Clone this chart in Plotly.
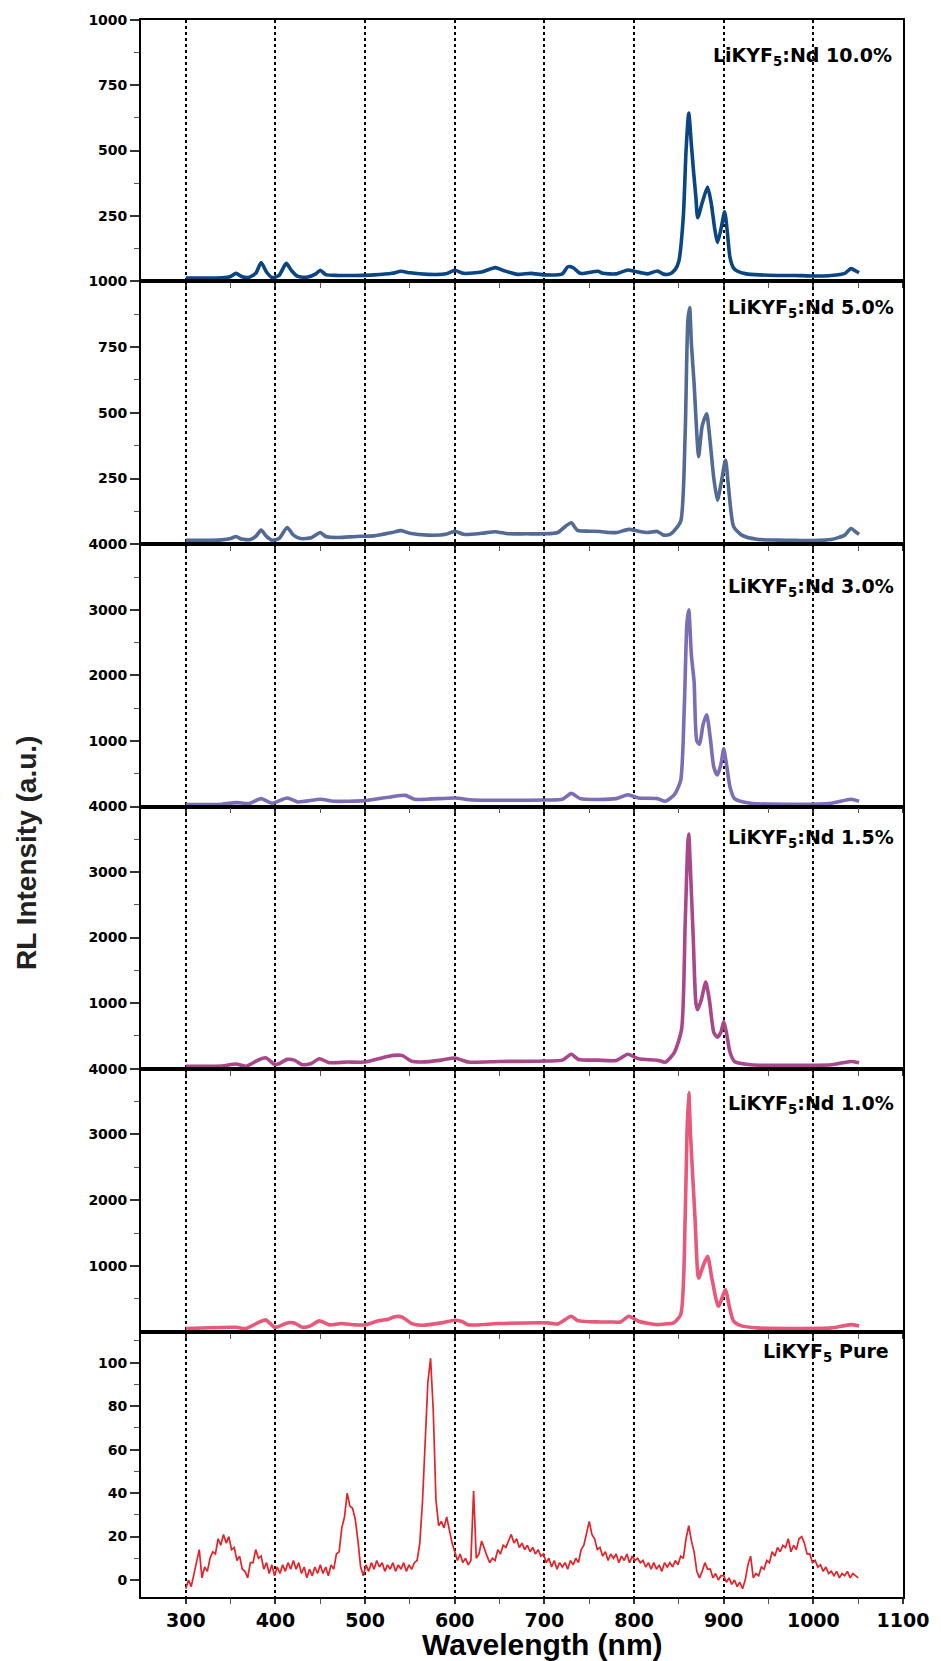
import plotly.graph_objects as go
from plotly.subplots import make_subplots

# ---------------- data ----------------
nd10_wl = [300, 320, 340, 350, 356, 362, 370, 378, 384, 390, 396, 404, 412, 418, 425, 435, 445, 450, 456, 470,
           490, 510, 530, 540, 550, 570, 590, 600, 610, 630, 645, 655, 670, 685, 700, 720, 726, 732, 740, 760,
           765, 780, 793, 800, 815, 826, 833, 840, 846, 850, 855, 858, 861, 864, 866, 869, 871, 876, 882, 886,
           890, 893, 897, 901, 904, 907, 911, 915, 925, 940, 960, 980, 1000, 1020, 1035, 1042, 1048, 1051]
nd10_int = [12, 12, 13, 18, 30, 18, 14, 30, 71, 35, 14, 22, 68, 40, 18, 15, 28, 42, 25, 22,
            22, 24, 30, 38, 32, 26, 28, 42, 30, 35, 52, 40, 26, 30, 24, 28, 55, 52, 30, 38,
            30, 28, 43, 38, 28, 39, 27, 28, 45, 77, 250, 500, 644, 520, 435, 320, 243, 300, 360, 300,
            200, 148, 200, 266, 190, 91, 50, 39, 28, 24, 22, 22, 20, 22, 30, 48, 38, 33]

nd5_wl = [300, 320, 340, 350, 356, 362, 372, 378, 384, 390, 396, 404, 413, 420, 428, 440, 450, 456, 470, 490,
          510, 530, 540, 550, 570, 590, 600, 610, 630, 645, 660, 680, 700, 715, 724, 730, 737, 750, 762, 772,
          781, 794, 805, 815, 826, 833, 840, 844, 852, 857, 860, 862, 864, 867, 870, 872, 876, 881, 884, 889,
          893, 897, 902, 905, 911, 920, 937, 960, 980, 1000, 1020, 1035, 1042, 1048, 1051]
nd5_int = [15, 15, 17, 22, 30, 20, 18, 30, 54, 30, 16, 22, 64, 35, 22, 25, 45, 30, 26, 30,
           32, 45, 52, 42, 35, 38, 50, 38, 42, 48, 40, 40, 40, 45, 70, 82, 53, 50, 49, 45,
           45, 57, 50, 45, 49, 35, 38, 49, 87, 420, 850, 900, 760, 610, 420, 333, 450, 496, 420, 250,
           168, 230, 320, 230, 68, 35, 19, 16, 15, 14, 18, 35, 60, 45, 38]

nd3_wl = [300, 340, 356, 370, 384, 396, 413, 425, 450, 465, 500, 530, 545, 555, 600, 620, 700, 720, 730, 740,
          780, 793, 805, 826, 835, 845, 852, 856, 859, 861, 864, 867, 870, 873, 877, 881, 885, 889, 893, 897,
          900, 903, 907, 912, 930, 980, 1020, 1042, 1051]
nd3_int = [30, 35, 60, 45, 120, 50, 130, 70, 110, 80, 90, 150, 170, 110, 130, 100, 100, 110, 200, 120,
           120, 180, 130, 120, 80, 180, 400, 1500, 2800, 3000, 2300, 1900, 1000, 950, 1250, 1400, 1050, 600, 480, 650,
           880, 650, 300, 120, 50, 35, 50, 110, 80]

nd15_wl = [300, 340, 356, 367, 380, 389, 399, 404, 413, 421, 430, 440, 449, 460, 480, 500, 515, 526, 532, 541,
           552, 563, 585, 600, 615, 650, 704, 720, 730, 738, 760, 780, 793, 805, 826, 835, 845, 853, 857, 860,
           861, 863, 866, 869, 871, 875, 880, 884, 889, 893, 897, 900, 903, 907, 912, 930, 980, 1020, 1042, 1051]
nd15_int = [37, 40, 71, 37, 127, 167, 66, 76, 142, 130, 61, 80, 152, 91, 101, 101, 152, 190, 203, 203,
            112, 101, 130, 162, 101, 110, 117, 130, 220, 140, 130, 125, 220, 150, 130, 100, 250, 600, 2200, 3450,
            3580, 3000, 2000, 1000, 900, 1050, 1320, 1050, 550, 480, 560, 720, 550, 250, 110, 60, 50, 60, 110, 90]

nd1_wl = [300, 356, 367, 380, 389, 399, 404, 413, 421, 430, 439, 449, 460, 473, 489, 500, 515, 526, 532, 541,
          552, 563, 585, 600, 608, 615, 648, 704, 715, 730, 737, 762, 774, 785, 794, 805, 815, 826, 835, 844,
          852, 857, 859, 861, 863, 868, 872, 877, 882, 887, 894, 902, 906, 911, 920, 937, 980, 1020, 1042, 1051]
nd1_int = [50, 70, 50, 136, 182, 70, 83, 136, 136, 70, 90, 167, 106, 126, 106, 106, 167, 192, 227, 227,
           126, 100, 136, 177, 157, 106, 126, 136, 121, 238, 170, 150, 150, 150, 238, 160, 130, 110, 120, 136,
           262, 1727, 3000, 3636, 2990, 1727, 818, 1000, 1147, 800, 389, 641, 400, 162, 90, 60, 50, 60, 110, 90]

# pure LiKYF5, sampled every 3 nm from 300 to 1050 nm
pure_wl = list(range(300, 1051, 3))
pure_int = [-4, 0, -3, 3, 8, 14, 1, 6, 4, 10,
            13, 12, 19, 16, 21, 17, 20, 14, 15, 9,
            11, 5, 4, 1, 8, 8, 14, 10, 11, 5,
            8, 3, 7, 2, 6, 3, 7, 4, 8, 5,
            9, 5, 8, 3, 6, 1, 5, 2, 6, 3,
            7, 3, 6, 2, 7, 5, 12, 13, 24, 29,
            40, 34, 33, 28, 18, 6, 2, 7, 4, 8,
            5, 9, 6, 8, 4, 7, 5, 8, 4, 7,
            5, 8, 4, 7, 5, 8, 9, 17, 36, 62,
            91, 102, 78, 37, 25, 27, 24, 29, 23, 17,
            13, 9, 12, 8, 10, 7, 9, 41, 10, 12,
            18, 14, 11, 8, 10, 9, 14, 12, 16, 15,
            18, 21, 17, 19, 15, 17, 14, 16, 13, 15,
            12, 14, 11, 12, 8, 10, 6, 9, 5, 8,
            6, 8, 5, 9, 7, 10, 8, 14, 16, 22,
            27, 21, 19, 14, 15, 11, 13, 9, 12, 10,
            12, 8, 11, 9, 12, 8, 11, 9, 10, 8,
            9, 6, 8, 5, 8, 5, 7, 4, 8, 6,
            8, 6, 9, 7, 11, 10, 19, 25, 18, 13,
            4, 1, 4, 8, 5, 5, 1, 3, 0, 2,
            2, -1, 1, -2, 0, -3, -1, -4, 0, 7,
            11, 1, 3, 2, 6, 5, 9, 8, 13, 11,
            15, 13, 16, 15, 19, 13, 16, 14, 19, 20,
            17, 12, 12, 8, 9, 6, 7, 4, 6, 3,
            4, 2, 4, 1, 3, 2, 4, 1, 3, 2, 1]

labels = ["LiKYF<sub>5</sub>:Nd 10.0%", "LiKYF<sub>5</sub>:Nd 5.0%", "LiKYF<sub>5</sub>:Nd 3.0%",
          "LiKYF<sub>5</sub>:Nd 1.5%", "LiKYF<sub>5</sub>:Nd 1.0%", "LiKYF<sub>5</sub> Pure"]

x_ticks = [300, 400, 500, 600, 700, 800, 900, 1000, 1100]
x_minor = [350, 450, 550, 650, 750, 850, 950, 1050]

# ---------------- styling ----------------
series = [(nd10_wl, nd10_int), (nd5_wl, nd5_int), (nd3_wl, nd3_int),
          (nd15_wl, nd15_int), (nd1_wl, nd1_int), (pure_wl, pure_int)]
colors = ["#0b4584", "#516a96", "#7c6db6", "#a8478a", "#e8587a", "#e42228"]
widths = [3.6, 3.6, 3.6, 3.6, 3.6, 1.7]
shapes = ["spline"] * 5 + ["linear"]
yranges = [[0, 1000], [0, 1000], [0, 4000], [0, 4000], [0, 4000], [-7.8, 114.2]]
yticks = [[250, 500, 750, 1000], [250, 500, 750, 1000], [1000, 2000, 3000, 4000],
          [1000, 2000, 3000, 4000], [1000, 2000, 3000, 4000], [0, 20, 40, 60, 80, 100]]
yminor = [[125, 375, 625, 875], [125, 375, 625, 875], [500, 1500, 2500, 3500],
          [500, 1500, 2500, 3500], [500, 1500, 2500, 3500], [10, 30, 50, 70, 90, 110]]

W, H = 941, 1661
L, R, T, B = 141, 34, 15, 64
bounds_px = [15, 277, 541, 804, 1067, 1331, 1597]
plot_h = H - T - B


def fy(px):
    return (H - B - px) / plot_h


def fx(px):
    return (px - L) / (W - L - R)


fig = make_subplots(rows=6, cols=1, vertical_spacing=0)

tick_font = dict(family="DejaVu Sans", size=14, color="black", weight="bold")
for i, ((wl, it), c, w) in enumerate(zip(series, colors, widths)):
    line = dict(color=c, width=w, shape=shapes[i])
    if shapes[i] == "spline":
        line["smoothing"] = 0.6
    fig.add_trace(go.Scatter(x=wl, y=it, mode="lines", line=line,
                             showlegend=False), row=i + 1, col=1)
    n = "" if i == 0 else str(i + 1)
    fig.layout["yaxis" + n].update(
        domain=[fy(bounds_px[i + 1]), fy(bounds_px[i])],
        range=yranges[i], tickmode="array", tickvals=yticks[i],
        ticks="outside", ticklen=9, tickwidth=1.5, tickcolor="#333",
        minor=dict(tickvals=yminor[i], ticks="outside", ticklen=5, tickwidth=1.2, tickcolor="#555"),
        showline=True, linecolor="black", linewidth=1.7, mirror=True,
        showgrid=False, zeroline=False, tickfont=tick_font)
    fig.layout["xaxis" + n].update(
        range=[250, 1100], tickmode="array", tickvals=x_ticks,
        showticklabels=(i == 5), ticks="outside", ticklen=5, tickwidth=1.5, tickcolor="#333",
        minor=dict(tickvals=x_minor, ticks="outside", ticklen=5, tickwidth=1.2, tickcolor="#555"),
        showline=True, linecolor="black", linewidth=1.7, mirror=True,
        showgrid=True, gridcolor="black", gridwidth=1.6, griddash="dot", zeroline=False,
        tickfont=dict(family="DejaVu Sans", size=19, color="black", weight="bold"))

label_y = [52, 304, 584, 836, 1103, 1352]
label_x = [898, 900, 900, 900, 900, 895]
for i, t in enumerate(labels):
    fig.add_annotation(text=t, xref="paper", yref="paper", x=fx(label_x[i]), y=fy(label_y[i]),
                       xanchor="right", yanchor="middle", showarrow=False,
                       font=dict(family="DejaVu Sans", size=19, color="black", weight="bold"))

fig.add_annotation(text="RL Intensity (a.u.)", xref="paper", yref="paper",
                   x=fx(26), y=fy(851), xanchor="center", yanchor="middle", textangle=-90,
                   showarrow=False,
                   font=dict(family="Liberation Sans", size=28, color="#222", weight="bold"))
fig.add_annotation(text="Wavelength (nm)", xref="paper", yref="paper",
                   x=fx(545), y=fy(1645), xanchor="center", yanchor="middle",
                   showarrow=False,
                   font=dict(family="Liberation Sans", size=30, color="black", weight="bold"))

fig.update_layout(width=W, height=H, margin=dict(l=L, r=R, t=T, b=B),
                  paper_bgcolor="white", plot_bgcolor="white")

fig.write_html("out.html")
